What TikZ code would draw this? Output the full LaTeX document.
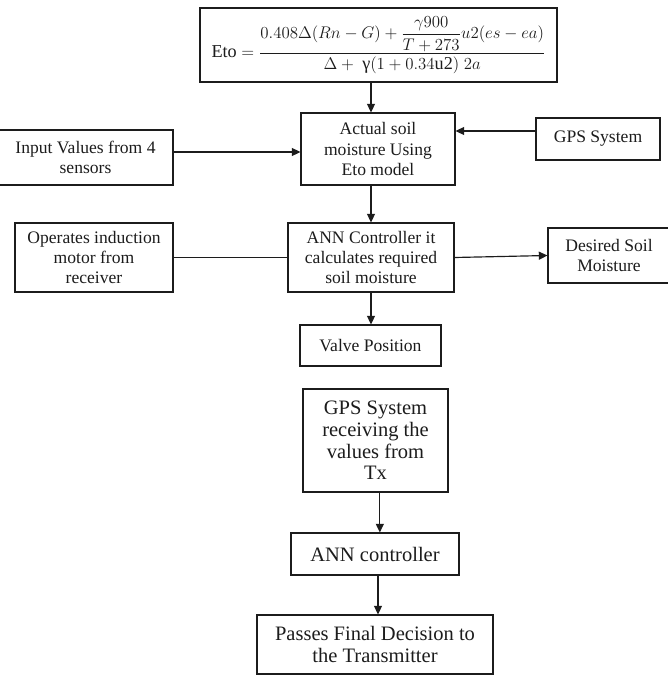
\documentclass[tikz,border=0pt]{standalone}
\usepackage{amsmath}
\usepackage{fontspec}
\setmainfont{Liberation Serif}
\usetikzlibrary{arrows.meta,calc}
\definecolor{ink}{RGB}{28,28,28}
\tikzset{
  box/.style={draw=ink,line width=0.9pt,fill=white,inner sep=0pt,align=center,text=ink,font=\fontsize{15}{17.4}\selectfont},
  lowbox/.style={box,font=\fontsize{17.5}{18.6}\selectfont},
  eqbox/.style={box,font=\fontsize{15.5}{17}\selectfont},
  arr/.style={-{Triangle[length=2.6mm,width=2.4mm]},draw=ink,line width=1pt},
  link/.style={draw=ink,line width=1pt}
}

\begin{document}
\begin{tikzpicture}[x=0.03cm,y=-0.03cm]
  \useasboundingbox[fill=white] (0,0) rectangle (667,675);

  \node[eqbox,minimum width=10.71cm,minimum height=2.22cm] (eto) at (378.5,45)
    {$\mathrm{Eto}=\dfrac{0.408\Delta(Rn-G)+\dfrac{\gamma900}{T+273}u2(es-ea)}{\Delta+\ \text{γ}(1+0.34\mathrm{u2})\ 2a}$};
  \node[box,minimum width=4.62cm,minimum height=2.16cm] (actual) at (378,149) {Actual soil\\moisture Using\\Eto model};
  \node[box,minimum width=5.25cm,minimum height=1.65cm] (input) at (85.5,157.5) {Input Values from 4\\sensors};
  \node[box,minimum width=3.72cm,minimum height=1.26cm] (gps) at (598,139) {GPS System};
  \node[box,minimum width=4.98cm,minimum height=2.07cm] (ann) at (371,257.5) {ANN Controller it\\calculates required\\soil moisture};
  \node[box,minimum width=4.74cm,minimum height=2.07cm] (motor) at (94,257.5) {Operates induction\\motor from\\receiver};
  \node[box,minimum width=3.66cm,minimum height=1.65cm] (desired) at (609,255.5) {Desired Soil\\Moisture};
  \node[box,minimum width=4.23cm,minimum height=1.23cm] (valve) at (370.5,345.5) {Valve Position};

  \node[lowbox,minimum width=4.35cm,minimum height=3.09cm] (gpsrx) at (375.5,440.5) {GPS System\\receiving the\\values from\\Tx};
  \node[lowbox,minimum width=5.04cm,minimum height=1.26cm] (annc) at (375,554) {ANN controller};
  \node[lowbox,minimum width=7.08cm,minimum height=1.77cm] (passes) at (375,644.5) {Passes Final Decision to\\the Transmitter};

  \draw[arr] (eto.south -| ann.north) -- (actual.north -| ann.north);
  \draw[arr] (actual.south -| ann.north) -- (ann.north);
  \draw[arr] ([yshift=0.165cm]input.east) coordinate (inA) -- (inA -| actual.west);
  \draw[arr] ([yshift=0.24cm]gps.west) coordinate (gpsA) -- (gpsA -| actual.east);
  \draw[link] (motor.east) -- (ann.west);
  \draw[arr] (ann.east) -- (desired.west);
  \draw[arr] (ann.south) -- (ann.south |- valve.north);
  \draw[arr] ([xshift=0.13cm]gpsrx.south) coordinate (rxA) -- (rxA |- annc.north);
  \draw[arr] ([xshift=0.09cm]annc.south) coordinate (cA) -- (cA |- passes.north);
\end{tikzpicture}
\end{document}
